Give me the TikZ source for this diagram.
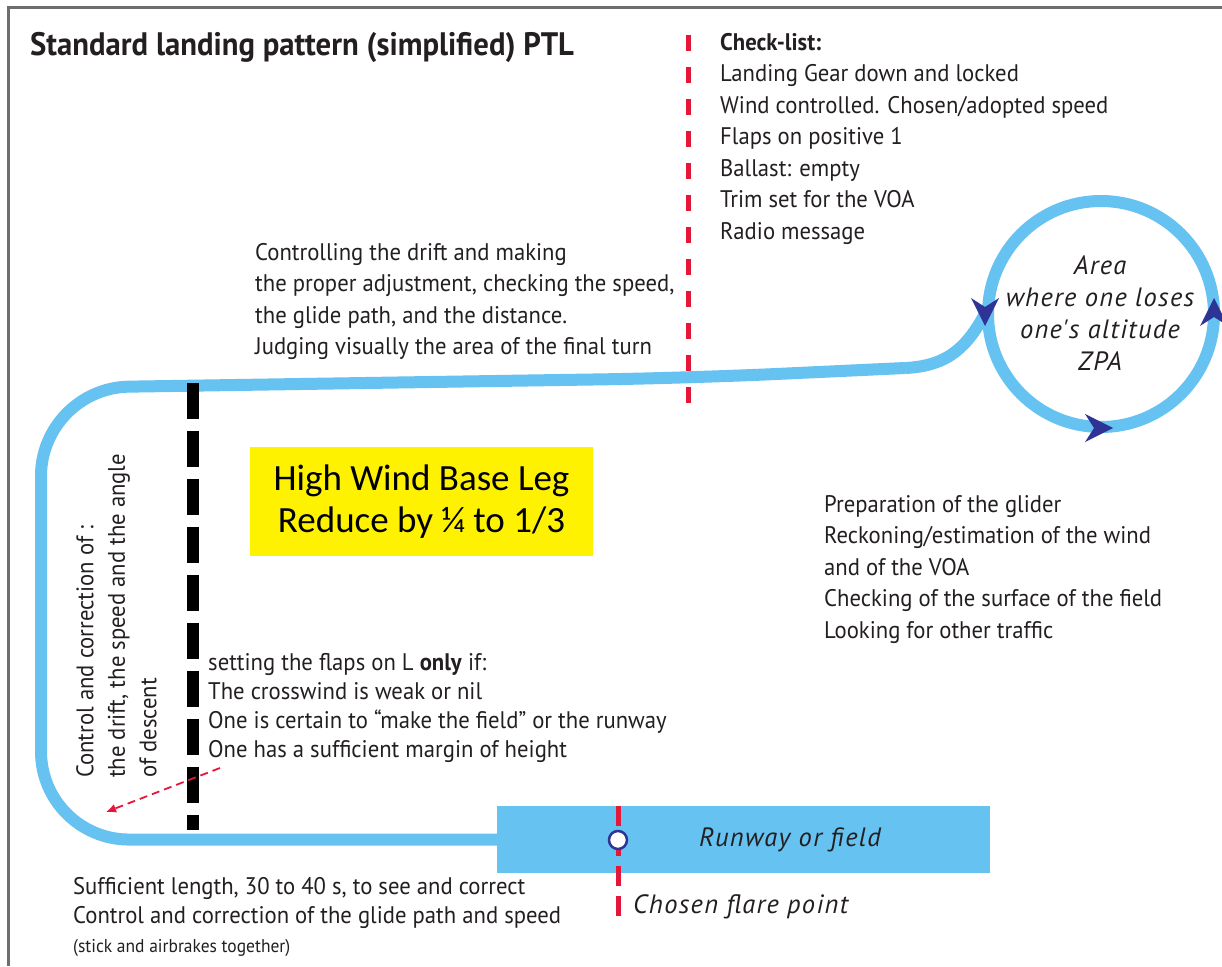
\documentclass[tikz,border=0pt]{standalone}
\usepackage{fontspec}
\setmainfont{PT Sans}[FakeStretch=0.945]
\newfontfamily\widefont{PT Sans}[LetterSpace=5]
\newfontfamily\calibri{Carlito}
\usetikzlibrary{arrows.meta}
\definecolor{sky}{RGB}{102,194,240}
\definecolor{tipblue}{RGB}{46,52,150}
\definecolor{flarered}{RGB}{226,23,58}
\definecolor{framegray}{RGB}{110,110,110}
\definecolor{inkgray}{RGB}{35,31,32}
\tikzstyle{flight}=[sky,line width=12pt]
\tikzstyle{reddash}=[flarered,line width=5pt,dash pattern=on 16pt off 16pt]
\tikzstyle{legdash}=[black,line width=12pt,dash pattern=on 36pt off 12pt]
\tikzstyle{txt}=[align=left,inner sep=0,anchor=north west,text=inkgray,font=\fontsize{24}{31.5}\selectfont]
\tikzstyle{slanted}=[inner sep=0,text=inkgray,font=\widefont\fontsize{26.5}{32}\selectfont\itshape]
\newcommand{\circtip}[2]{\fill[tipblue,shift={#1},rotate=#2] (0,0)--(-28,14)--(-19,0)--(-28,-14)--cycle;}

\begin{document}
\begin{tikzpicture}[x=1pt,y=-1pt]
\useasboundingbox (0,0) rectangle (1222,966);
\draw[framegray,line width=3pt] (8,966)--(8,8)--(1222,8);
\node[txt,anchor=west,font=\fontsize{32.5}{38}\selectfont\bfseries] (title) at (30,47) {Standard landing pattern (simplified) PTL};

% runway and flare point
\node[fill=sky,inner sep=0,minimum width=493pt,minimum height=67pt,anchor=north west] (rwy) at (497,806) {};
\node[slanted] (rwylabel) at (790,840) {Runway or field};
\draw[reddash,dash pattern=on 20pt off 10pt] (618,806)--(618,920);
\node[circle,draw=tipblue,fill=white,line width=2.5pt,minimum size=18pt,inner sep=0] (flare) at (618,840) {};
\node[slanted,anchor=west] (flarelabel) at (633,907) {Chosen flare point};

% circuit
\coordinate (zpa) at (1101,314);
\draw[flight] (zpa) circle (113);
\draw[flight,rounded corners=88pt] (rwy.west)--(41,839.5)--(41,388)--(690,378)--(905,368);
\draw[flight] (905,368) .. controls (950,366) and (968,345) .. (986,312);
\circtip{(985,326)}{-90}
\circtip{(1113,428)}{0}
\circtip{(1214,298)}{90}
\node[slanted,align=center] (zpalabel) at (1100,313) {Area\\where one loses\\one's altitude\\ZPA};

% base leg and check line
\draw[legdash] (193,383)--(193,830);
\draw[reddash] (688,35)--(688,405);
\node[fill=yellow,minimum width=343pt,minimum height=109pt,align=center,font=\calibri\fontsize{37}{42}\selectfont] (wind) at (421.5,501.5) {High Wind Base Leg\\Reduce by ¼ to 1/3};

\coordinate (flapsend) at (220,768);
\coordinate (turnpt) at (106,812);
\draw[flarered,line width=1.8pt,dash pattern=on 8pt off 5pt,-{Latex[length=10pt,width=9pt]}] (flapsend)--(turnpt);

% texts
\node[txt] (checklist) at (720,33) {\textbf{Check-list:}\\Landing Gear down and locked\\Wind controlled. Chosen/adopted speed\\Flaps on positive 1\\Ballast: empty\\Trim set for the VOA\\Radio message};
\node[txt] (drift) at (255,243) {Controlling the drift and making\\the proper adjustment, checking the speed,\\the glide path, and the distance.\\Judging visually the area of the final turn};
\node[txt] (prep) at (824,495) {Preparation of the glider\\Reckoning/estimation of the wind\\and of the VOA\\Checking of the surface of the field\\Looking for other traffic};
\node[txt,font=\fontsize{24}{29}\selectfont] (flaps) at (208,653) {setting the flaps on L \textbf{only} if:\\The crosswind is weak or nil\\One is certain to “make the field” or the runway\\One has a sufficient margin of height};
\node[txt,font=\fontsize{24}{29}\selectfont] (final) at (73,877) {Sufficient length, 30 to 40 s, to see and correct\\Control and correction of the glide path and speed\\{\fontsize{18.5}{22}\selectfont(stick and airbrakes together)}};
\node[txt,rotate=90] (control) at (76,778) {Control and correction of :\\the drift, the speed and the angle\\of descent};
\end{tikzpicture}
\end{document}
